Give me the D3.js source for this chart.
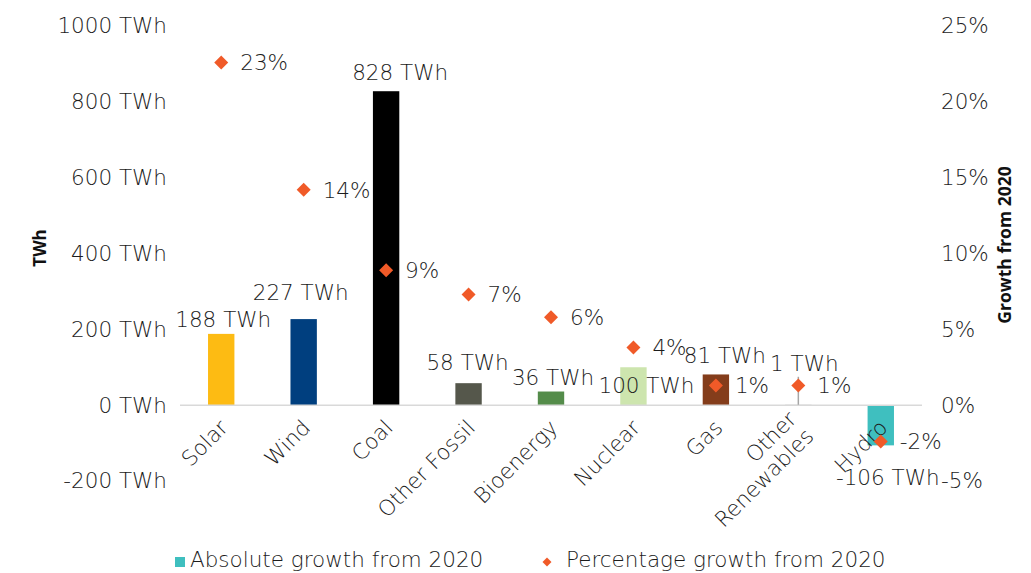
<!DOCTYPE html>
<html>
<head>
<meta charset="utf-8">
<script src="https://cdn.jsdelivr.net/npm/d3@7"></script>
<style>
  html, body { margin: 0; padding: 0; background: #ffffff; }
  svg { display: block; }
  text { font-family: "DejaVu Sans ExtraLight", "DejaVu Sans", sans-serif; font-weight: 200; fill: #1c1c1c; }
  .title { font-family: "Open Sans", "Liberation Sans", sans-serif; font-weight: 700; fill: #111; }
</style>
</head>
<body>
<svg id="chart" width="1031" height="573"></svg>
<script>
// Change in electricity generation by source, 2020 → 2021
const categories = ["Solar", "Wind", "Coal", "Other Fossil", "Bioenergy", "Nuclear", "Gas", "Other Renewables", "Hydro"];
const absoluteGrowth = [188, 227, 828, 58, 36, 100, 81, 1, -106];        // TWh
const percentGrowth = [22.6, 14.2, 8.9, 7.3, 5.8, 3.8, 1.3, 1.3, -2.4];   // %
const twhTicks = [-200, 0, 200, 400, 600, 800, 1000];
const pctTicks = [-5, 0, 5, 10, 15, 20, 25];
const legendLabels = ["Absolute growth from 2020", "Percentage growth from 2020"];

// one fill per source
const barColors = ["#fdbb13", "#003f7f", "#000000", "#55574b", "#548c4a", "#cde5ae", "#843d1b", "#a6a6a6", "#3fbfbf"];
const markerColor = "#f05a28";

// hand-placed nudges for the value labels [dx, dy]
const labelNudge = {
  "Solar": [2, 5], "Wind": [-3, -7], "Coal": [14, 1], "Other Fossil": [-1, -1],
  "Bioenergy": [2, 6], "Nuclear": [13, 38], "Gas": [9, 1], "Other Renewables": [6, -22], "Hydro": [7, 12]
};

const fmt = d3.formatLocale({decimal: ".", thousands: ",", grouping: [3], currency: ["", ""], minus: "-"});
const fmtInt = fmt.format(".0f");

const rows = categories.map((c, i) => ({cat: c, abs: absoluteGrowth[i], pct: percentGrowth[i], color: barColors[i]}));

const svg = d3.select("#chart");
const plot = {left: 180, right: 922, top: 26, bottom: 481};

const x = d3.scaleBand().domain(categories).range([plot.left, plot.right]).padding(0);
const yL = d3.scaleLinear().domain([-200, 1000]).range([plot.bottom, plot.top]);
const yR = d3.scaleLinear().domain([-5, 25]).range([plot.bottom, plot.top]);
const cx = c => x(c) + x.bandwidth() / 2;
const barW = x.bandwidth() * 0.32;
const fs = 21.5;

// left axis (TWh)
const axL = svg.append("g").attr("transform", `translate(${plot.left - 13},0)`)
  .call(d3.axisLeft(yL).tickValues(twhTicks).tickSize(0).tickPadding(0).tickFormat(d => fmtInt(d) + " TWh"));
axL.select(".domain").remove();
axL.selectAll("text").style("font-size", fs + "px").attr("font-family", null).attr("fill", null);

// right axis (%)
const axR = svg.append("g").attr("transform", `translate(${plot.right + 19},0)`)
  .call(d3.axisRight(yR).tickValues(pctTicks).tickSize(0).tickPadding(0).tickFormat(d => fmtInt(d) + "%"));
axR.select(".domain").remove();
axR.selectAll("text").style("font-size", fs + "px").attr("font-family", null).attr("fill", null);

// axis titles
svg.append("text").attr("class", "title")
  .attr("transform", `translate(46,248) rotate(-90)`)
  .attr("text-anchor", "middle").style("font-size", "17px").text("TWh");
svg.append("text").attr("class", "title")
  .attr("transform", `translate(1011,245) rotate(-90)`)
  .attr("text-anchor", "middle").style("font-size", "17.5px").text("Growth from 2020");

// bars
svg.append("g").selectAll("rect").data(rows).join("rect")
  .attr("x", d => cx(d.cat) - barW / 2)
  .attr("width", barW)
  .attr("y", d => yL(Math.max(0, d.abs)))
  .attr("height", d => Math.abs(yL(d.abs) - yL(0)))
  .attr("fill", d => d.color);

// zero line
svg.append("line")
  .attr("x1", plot.left).attr("x2", plot.right)
  .attr("y1", yL(0)).attr("y2", yL(0))
  .attr("stroke", "#d9d9d9").attr("stroke-width", 1.5);

// category labels, rotated
const wrap = s => s.length > 12 ? s.split(" ") : [s];
const catG = svg.append("g").selectAll("text").data(rows).join("text")
  .attr("transform", d => `translate(${cx(d.cat) + 8},429) rotate(-45)`)
  .attr("text-anchor", "end")
  .style("font-size", fs + "px");
catG.each(function (d) {
  const lines = wrap(d.cat);
  const lh = 24;
  d3.select(this).selectAll("tspan").data(lines).join("tspan")
    .attr("x", 0)
    .attr("y", (l, i) => (i - (lines.length - 1) / 2) * lh)
    .text(l => l);
});

// value labels for bars
const valPos = d => {
  const n = labelNudge[d.cat] || [0, 0];
  const base = d.abs >= 0 ? yL(d.abs) - 20 : yL(d.abs) + 20;
  return [cx(d.cat) + n[0], base + n[1]];
};

// leader line where a label sits far from its bar
rows.filter(d => d.cat === "Other Renewables").forEach(d => {
  const [, ly] = valPos(d);
  svg.append("line")
    .attr("x1", cx(d.cat)).attr("x2", cx(d.cat))
    .attr("y1", ly + 14).attr("y2", yL(d.abs))
    .attr("stroke", "#a6a6a6").attr("stroke-width", 1.5);
});

svg.append("g").selectAll("text").data(rows).join("text")
  .attr("x", d => valPos(d)[0])
  .attr("y", d => valPos(d)[1])
  .attr("dy", "0.36em")
  .attr("text-anchor", "middle")
  .style("font-size", fs + "px")
  .text(d => fmtInt(d.abs) + " TWh");

// percentage markers
const diamond = d3.symbol().type(d3.symbolSquare).size(98);
svg.append("g").selectAll("path").data(rows).join("path")
  .attr("d", diamond)
  .attr("transform", d => `translate(${cx(d.cat)},${yR(d.pct)}) rotate(45)`)
  .attr("fill", markerColor);

svg.append("g").selectAll("text").data(rows).join("text")
  .attr("x", d => cx(d.cat) + 19)
  .attr("y", d => yR(d.pct))
  .attr("dy", "0.36em")
  .style("font-size", fs + "px")
  .text(d => fmtInt(d.pct) + "%");

// legend
const lg = svg.append("g");
lg.append("rect").attr("x", 175).attr("y", 557).attr("width", 10).attr("height", 10).attr("fill", barColors[8]);
lg.append("text").attr("x", 190).attr("y", 567).style("font-size", fs + "px").text(legendLabels[0]);
lg.append("path").attr("d", d3.symbol().type(d3.symbolSquare).size(40))
  .attr("transform", "translate(547,562) rotate(45)").attr("fill", markerColor);
lg.append("text").attr("x", 566).attr("y", 567).style("font-size", fs + "px").text(legendLabels[1]);
</script>
</body>
</html>
